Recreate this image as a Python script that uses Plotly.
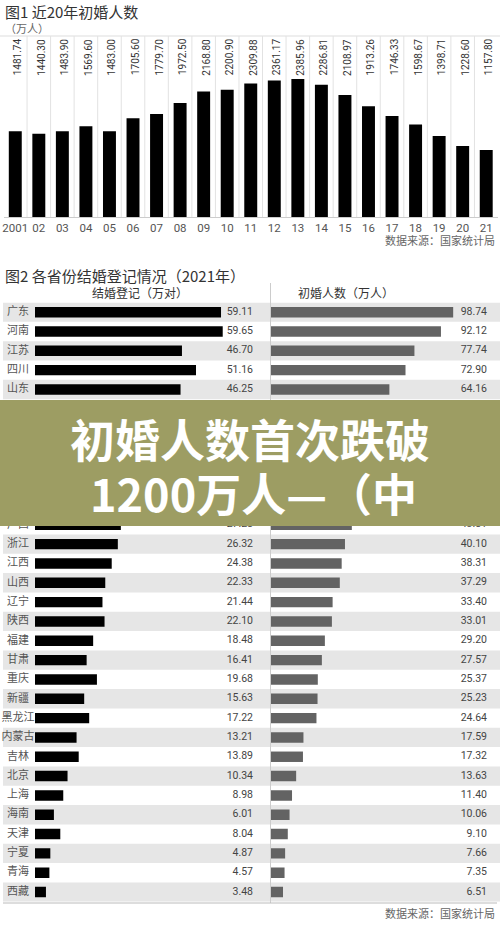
import plotly.graph_objects as go

W, H = 500, 926

# ---------------- data ----------------
years = ["2001", "02", "03", "04", "05", "06", "07", "08", "09", "10",
         "11", "12", "13", "14", "15", "16", "17", "18", "19", "20", "21"]
first_marriage = [1481.74, 1440.30, 1483.90, 1569.60, 1483.00, 1705.60, 1779.70,
                  1972.50, 2168.80, 2200.90, 2309.88, 2361.17, 2385.96, 2286.81,
                  2108.97, 1913.26, 1746.33, 1598.67, 1398.71, 1228.60, 1157.80]

provinces = ["广东", "河南", "江苏", "四川", "山东", "河北", "湖南", "安徽", "湖北",
             "云南", "贵州", "广西", "浙江", "江西", "山西", "辽宁", "陕西", "福建",
             "甘肃", "重庆", "新疆", "黑龙江", "内蒙古", "吉林", "北京", "上海",
             "海南", "天津", "宁夏", "青海", "西藏"]
# 结婚登记（万对）
registrations = [59.11, 59.65, 46.70, 51.16, 46.25, 40.30, 37.57, 36.79, 34.36,
                 31.97, 30.28, 27.28, 26.32, 24.38, 22.33, 21.44, 22.10, 18.48,
                 16.41, 19.68, 15.63, 17.22, 13.21, 13.89, 10.34, 8.98,
                 6.01, 8.04, 4.87, 4.57, 3.48]
# 初婚人数（万人）
first_by_prov = [98.74, 92.12, 77.74, 72.90, 64.16, 60.56, 56.67, 55.62, 50.45,
                 47.06, 46.32, 43.81, 40.10, 38.31, 37.29, 33.40, 33.01, 29.20,
                 27.57, 25.37, 25.23, 24.64, 17.59, 17.32, 13.63, 11.40,
                 10.06, 9.10, 7.66, 7.35, 6.51]

CJK = "Noto Sans CJK SC"
NUM = "Roboto, Noto Sans CJK SC"


def px_y(p):
    return 1 - p / H


def px_x(p):
    return p / W


fig = go.Figure()

# ---------------- figure 1 ----------------
fig.add_trace(go.Bar(
    x=years, y=first_marriage, marker=dict(color="#000000", line=dict(width=0)),
    xaxis="x", yaxis="y", showlegend=False, hoverinfo="skip"))

# ---------------- figure 2 ----------------
fig.add_trace(go.Bar(
    x=registrations, y=provinces, orientation="h",
    marker=dict(color="#000000", line=dict(width=0)), width=0.54,
    xaxis="x2", yaxis="y2", showlegend=False, hoverinfo="skip"))
fig.add_trace(go.Bar(
    x=first_by_prov, y=provinces, orientation="h",
    marker=dict(color="#636363", line=dict(width=0)), width=0.54,
    xaxis="x4", yaxis="y2", showlegend=False, hoverinfo="skip"))

# row texts on a full-width pixel axis
fig.add_trace(go.Scatter(
    x=[18] * len(provinces), y=provinces, mode="text", text=provinces,
    textposition="middle center", textfont=dict(family=CJK, size=11, color="#555555"),
    xaxis="x3", yaxis="y2", showlegend=False, hoverinfo="skip", cliponaxis=False))
fig.add_trace(go.Scatter(
    x=[253] * len(provinces), y=provinces, mode="text",
    text=[f"{v:.2f}" for v in registrations],
    textposition="middle left", textfont=dict(family=NUM, size=10.5, color="#444444"),
    xaxis="x3", yaxis="y2", showlegend=False, hoverinfo="skip", cliponaxis=False))
fig.add_trace(go.Scatter(
    x=[487] * len(provinces), y=provinces, mode="text",
    text=[f"{v:.2f}" for v in first_by_prov],
    textposition="middle left", textfont=dict(family=NUM, size=10.5, color="#444444"),
    xaxis="x3", yaxis="y2", showlegend=False, hoverinfo="skip", cliponaxis=False))

shapes = []
annotations = []

# fig1 grid lines
shapes.append(dict(type="line", xref="paper", yref="paper", x0=0, x1=1,
                   y0=px_y(36), y1=px_y(36), line=dict(color="#dddddd", width=1), layer="below"))
for i in range(1, len(years)):
    shapes.append(dict(type="line", xref="x", yref="paper", x0=i - 0.5, x1=i - 0.5,
                       y0=px_y(217), y1=px_y(36), line=dict(color="#e2e2e2", width=1),
                       layer="below"))

# fig1 rotated value labels (x given as category index)
for i, v in enumerate(first_marriage):
    annotations.append(dict(x=i, xref="x", y=px_y(57), yref="paper", text=f"{v:.2f}",
                            textangle=-90, showarrow=False, xanchor="center", yanchor="middle",
                            xshift=3, font=dict(family=NUM, size=10, color="#333333")))

# titles & notes
annotations += [
    dict(x=px_x(3), y=px_y(12), xref="paper", yref="paper", text="图1 近20年初婚人数",
         showarrow=False, xanchor="left", yanchor="middle",
         font=dict(family=CJK, size=15, color="#333333")),
    dict(x=px_x(3), y=px_y(28), xref="paper", yref="paper", text="（万人）",
         showarrow=False, xanchor="left", yanchor="middle",
         font=dict(family=CJK, size=11, color="#666666")),
    dict(x=px_x(497), y=px_y(240), xref="paper", yref="paper", text="数据来源：国家统计局",
         showarrow=False, xanchor="right", yanchor="middle",
         font=dict(family=CJK, size=11, color="#666666")),
    dict(x=px_x(3), y=px_y(275), xref="paper", yref="paper",
         text="图2 各省份结婚登记情况（2021年）",
         showarrow=False, xanchor="left", yanchor="middle",
         font=dict(family=CJK, size=15, color="#333333")),
    dict(x=px_x(140), y=px_y(292), xref="paper", yref="paper", text="结婚登记（万对）",
         showarrow=False, xanchor="center", yanchor="middle",
         font=dict(family=CJK, size=12, color="#333333")),
    dict(x=px_x(346), y=px_y(292), xref="paper", yref="paper", text="初婚人数（万人）",
         showarrow=False, xanchor="center", yanchor="middle",
         font=dict(family=CJK, size=12, color="#333333")),
    dict(x=px_x(497), y=px_y(913), xref="paper", yref="paper", text="数据来源：国家统计局",
         showarrow=False, xanchor="right", yanchor="middle",
         font=dict(family=CJK, size=11, color="#666666")),
]

# row bands
for i in range(0, len(provinces), 2):
    shapes.append(dict(type="rect", xref="paper", yref="y2", x0=px_x(3), x1=1,
                       y0=i - 0.5, y1=i + 0.5, fillcolor="#e6e6e6",
                       line=dict(width=0), layer="below"))
# separators
shapes.append(dict(type="line", xref="paper", yref="paper", x0=px_x(270.5), x1=px_x(270.5),
                   y0=px_y(903), y1=px_y(283), line=dict(color="#cccccc", width=1),
                   layer="below"))
shapes.append(dict(type="line", xref="paper", yref="paper", x0=px_x(3), x1=px_x(497),
                   y0=px_y(903), y1=px_y(903), line=dict(color="#bbbbbb", width=1),
                   layer="above"))

# banner overlay
shapes.append(dict(type="rect", xref="paper", yref="paper", x0=0, x1=1,
                   y0=px_y(526), y1=px_y(400), fillcolor="#9d9d63",
                   line=dict(width=0), layer="above"))
annotations += [
    dict(x=px_x(250), y=px_y(438), xref="paper", yref="paper", text="<b>初婚人数首次跌破</b>",
         showarrow=False, xanchor="center", yanchor="middle",
         font=dict(family=CJK, size=45, color="#ffffff")),
    dict(x=px_x(253), y=px_y(492), xref="paper", yref="paper", text="<b>1200万人—（中</b>",
         showarrow=False, xanchor="center", yanchor="middle",
         font=dict(family=CJK, size=45, color="#ffffff")),
]

R1 = 2385.96 * (217 - 36) / 138.0
n = len(provinces)

fig.update_layout(
    width=W, height=H, margin=dict(l=0, r=0, t=0, b=0, autoexpand=False),
    paper_bgcolor="#ffffff", plot_bgcolor="rgba(0,0,0,0)",
    bargap=0.45, showlegend=False,
    xaxis=dict(domain=[px_x(3.5), px_x(498)], type="category", anchor="y",
               range=[-0.5, len(years) - 0.5], automargin=False,
               showline=True, linecolor="#cccccc", linewidth=1, ticks="",
               showgrid=False, zeroline=False, fixedrange=True,
               tickfont=dict(family=NUM, size=11.5, color="#555555")),
    yaxis=dict(domain=[px_y(217), px_y(36)], range=[0, R1], visible=False,
               anchor="x", fixedrange=True),
    yaxis2=dict(domain=[px_y(302.5 + n * 19.33), px_y(302.5)], type="category",
                categoryorder="array", categoryarray=provinces,
                range=[n - 0.5, -0.5], visible=False, anchor="x2", fixedrange=True),
    xaxis2=dict(domain=[px_x(35), px_x(260)], range=[0, 225 / 3.147], visible=False,
                anchor="y2", fixedrange=True),
    xaxis4=dict(domain=[px_x(271), px_x(490)], range=[0, 219 / 1.845], visible=False,
                anchor="y2", fixedrange=True),
    xaxis3=dict(domain=[0, 1], range=[0, W], visible=False, anchor="y2", fixedrange=True),
    shapes=shapes, annotations=annotations,
)

fig.write_html("out.html", config={"displayModeBar": False},
               post_script="document.body.style.margin='0';document.body.style.overflow='hidden';")
